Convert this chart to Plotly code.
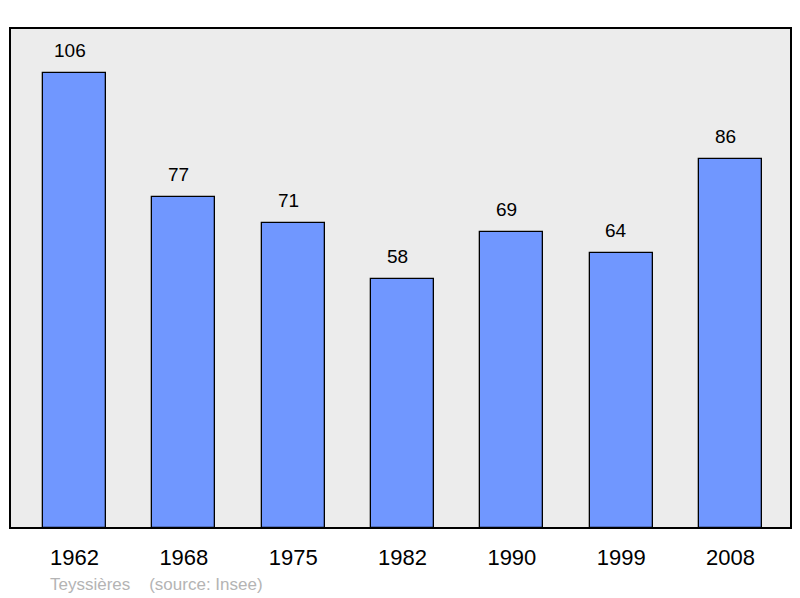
import plotly.graph_objects as go

years = ["1962", "1968", "1975", "1982", "1990", "1999", "2008"]
population = [106, 77, 71, 58, 69, 64, 86]
footer_place = "Teyssières"
footer_source = "(source: Insee)"

xs = list(range(len(years)))

fig = go.Figure()
fig.add_trace(go.Bar(
    x=xs, y=population, width=0.576,
    marker=dict(color="#7097ff", line=dict(color="#000000", width=1.3)),
    hoverinfo="skip",
))

for x, v in zip(xs, population):
    fig.add_annotation(x=x, y=v, text=str(v), showarrow=False,
                       yanchor="bottom", yshift=10, xshift=-5,
                       font=dict(size=19, color="#000000"))

# plot area in figure px: top 20, bottom 520 (height 500)
fig.add_annotation(xref="paper", yref="paper", x=(48 - 8 - 2) / 781, y=-(576 - 520) / 500,
                   xanchor="left", yanchor="middle", showarrow=False,
                   text=footer_place + "&nbsp;&nbsp;&nbsp;&nbsp;" + footer_source,
                   font=dict(size=17, color="#b4b4b4"))

fig.add_shape(type="rect", xref="paper", yref="paper", x0=0, y0=0, x1=1, y1=1,
              line=dict(color="#000000", width=2), fillcolor="#ececec", layer="below")

fig.update_layout(
    width=792, height=590,
    margin=dict(l=2, r=9, t=20, b=70),
    paper_bgcolor="#ffffff", plot_bgcolor="#ececec",
    font=dict(family="Liberation Sans, Arial, sans-serif", color="#000000"),
    showlegend=False,
    bargap=0,
)
fig.update_xaxes(range=[-0.59, 6.553], tickmode="array", tickvals=xs, ticktext=years,
                 tickfont=dict(size=22), showgrid=False, zeroline=False,
                 ticks="", ticklabelstandoff=14, fixedrange=True)
fig.update_yaxes(range=[0, 116.48], showgrid=False, zeroline=False,
                 showticklabels=False, ticks="", fixedrange=True)

fig.write_html("out.html")
